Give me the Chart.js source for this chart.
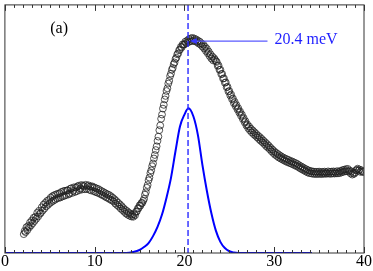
<!DOCTYPE html>
<html>
<head>
<meta charset="utf-8">
<script src="https://cdn.jsdelivr.net/npm/chart.js@4.4.1/dist/chart.umd.min.js"></script>
<style>
  html, body { margin: 0; padding: 0; background: #fff; }
  #wrap { width: 373px; height: 271px; position: relative; }
</style>
</head>
<body>
<div id="wrap"><canvas id="chart"></canvas></div>
<script>
'use strict';

/* ── Data ─────────────────────────────────────────────── */

/* measured spectrum: evenly sampled, one row per meV */
var energyStart = 2.1;
var energyStep  = 0.1;
var intensity = [
  /* 2.1 */ 7.6, 8.9, 8.4, 10.4, 9.2, 10.9, 10.3, 12.3, 11.1,
  /* 3 */  13.1, 12.0, 14.2, 12.9, 14.6, 13.8, 16.2, 14.7, 17.0, 15.8,
  /* 4 */  16.2, 18.4, 17.1, 19.5, 17.9, 20.2, 18.8, 21.0, 19.4, 21.4,
  /* 5 */  20.1, 22.3, 20.6, 22.9, 21.1, 23.3, 21.5, 23.6, 22.0, 23.9,
  /* 6 */  22.2, 24.1, 22.4, 24.6, 22.8, 24.9, 23.0, 25.1, 23.3, 25.2,
  /* 7 */  25.3, 23.6, 24.0, 25.9, 26.1, 24.2, 25.0, 26.5, 24.6, 26.4,
  /* 8 */  24.9, 26.8, 27.1, 25.3, 26.0, 27.4, 25.6, 27.2, 26.9, 25.7,
  /* 9 */  27.5, 25.8, 26.9, 27.3, 25.5, 26.8, 25.2, 26.9, 26.5, 24.9,
  /* 10 */ 26.4, 24.6, 26.0, 24.3, 25.8, 24.1, 25.3, 23.6, 24.9, 23.3,
  /* 11 */ 24.5, 22.9, 24.1, 22.4, 23.7, 22.1, 23.4, 21.6, 22.9, 21.2,
  /* 12 */ 22.3, 20.8, 21.7, 19.9, 21.0, 19.3, 20.3, 18.7, 19.6, 17.9,
  /* 13 */ 18.9, 17.3, 18.1, 16.6, 17.4, 15.9, 16.9, 15.4, 16.3, 15.0,
  /* 14 */ 15.8, 14.7, 15.5, 14.6, 15.7, 15.2, 16.6, 16.8, 17.9, 18.1,
  /* 15 */ 19.2, 19.1, 20.1, 20.2, 21.0, 21.8, 23.5, 24.5, 26.3, 27.4,
  /* 16 */ 29.3, 30.4, 32.2, 33.3, 35.0, 36.1, 38.1, 39.5, 41.5, 43.0,
  /* 17 */ 45.2, 46.9, 49.5, 51.4, 54.1, 55.8, 58.2, 59.7, 61.9, 63.3,
  /* 18 */ 65.3, 66.4, 68.3, 69.4, 71.3, 72.3, 73.9, 74.6, 76.1, 76.8,
  /* 19 */ 78.2, 78.7, 80.1, 80.4, 81.7, 82.0, 83.1, 82.9, 84.1, 83.9,
  /* 20 */ 84.1, 85.2, 84.6, 85.6, 84.9, 86.2, 85.3, 86.5, 85.4, 86.7,
  /* 21 */ 85.6, 86.4, 85.3, 86.1, 85.0, 85.6, 84.4, 85.2, 84.0, 84.5,
  /* 22 */ 83.2, 84.0, 82.4, 83.1, 81.4, 82.3, 80.5, 81.2, 79.4, 80.1,
  /* 23 */ 78.4, 79.2, 77.6, 78.5, 77.9, 77.3, 77.0, 75.4, 75.6, 73.8,
  /* 24 */ 73.9, 72.1, 72.2, 70.3, 70.4, 68.6, 68.8, 66.8, 67.0, 65.1,
  /* 25 */ 65.3, 63.5, 63.9, 62.0, 62.3, 60.4, 60.9, 59.2, 59.6, 57.9,
  /* 26 */ 58.3, 56.6, 57.0, 55.3, 55.8, 54.0, 54.4, 52.7, 53.1, 51.4,
  /* 27 */ 51.8, 50.3, 51.0, 49.4, 50.1, 48.6, 49.4, 47.9, 48.7, 47.3,
  /* 28 */ 48.0, 46.6, 47.3, 45.9, 46.7, 45.2, 46.0, 44.6, 45.3, 43.9,
  /* 29 */ 44.6, 43.1, 43.9, 42.5, 43.2, 41.8, 42.4, 41.0, 41.7, 40.3,
  /* 30 */ 41.0, 39.6, 40.4, 39.1, 39.9, 38.5, 39.4, 38.1, 38.9, 37.7,
  /* 31 */ 38.5, 37.3, 38.1, 36.9, 37.8, 36.6, 37.5, 36.3, 37.1, 36.0,
  /* 32 */ 36.9, 35.7, 36.5, 35.3, 36.2, 35.0, 35.8, 34.6, 35.3, 34.1,
  /* 33 */ 34.9, 33.7, 34.5, 33.3, 34.0, 32.9, 33.7, 32.5, 33.3, 32.2,
  /* 34 */ 33.1, 32.1, 32.9, 31.9, 32.8, 31.9, 32.7, 31.8, 32.7, 31.9,
  /* 35 */ 32.8, 31.9, 32.6, 31.8, 32.7, 32.0, 32.8, 31.9, 32.5, 32.0,
  /* 36 */ 32.9, 32.0, 32.7, 31.9, 32.8, 32.1, 32.9, 32.0, 32.6, 32.1,
  /* 37 */ 33.0, 32.1, 32.8, 32.2, 33.1, 32.5, 33.4, 32.7, 33.6, 32.9,
  /* 38 */ 33.8, 33.0, 33.9, 32.8, 33.2, 32.1, 32.9, 31.6, 32.2, 31.9,
  /* 39 */ 32.4, 33.3, 33.5, 34.0, 33.2, 33.6, 32.7, 33.4, 32.9, 32.6
];

/* fitted mode (blue curve) */
var fitEnergy    = [0, 13.5, 14.3, 15.0, 15.5, 16.0, 16.5, 17.0, 17.5, 18.0, 18.5, 19.0, 19.5, 20.0, 20.45,
                    21.0, 21.5, 22.0, 22.5, 23.0, 23.5, 24.0, 24.5, 25.0, 25.5, 26.0, 34.2];
var fitIntensity = [0, 0, 0.4, 1.2, 2.4, 4.0, 6.8, 10.5, 15.5, 22.3, 30.3, 41.0, 51.0, 55.8, 58.3,
                    55.0, 47.5, 35.5, 25.0, 16.0, 9.0, 4.5, 2.0, 0.7, 0.2, 0, 0];

var peakEnergy = 20.4;
var peakLabel  = '20.4 meV';
var panelLabel = '(a)';
var xTicks     = [0, 10, 20, 30, 40];

/* ── Build datasets ───────────────────────────────────── */

var spectrum = intensity.map(function (v, i) {
  return { x: energyStart + i * energyStep, y: v };
});
var fit = fitEnergy.map(function (e, i) {
  return { x: e, y: fitIntensity[i] };
});

var SERIF = '"Liberation Serif", "Times New Roman", serif';

/* frame, inward ticks, marker line and labels */
var decor = {
  id: 'decor',
  afterDatasetsDraw: function (chart) {
    var ctx = chart.ctx, a = chart.chartArea;
    var sx = chart.scales.x, sy = chart.scales.y;
    ctx.save();

    // dashed peak position
    var px = sx.getPixelForValue(peakEnergy);
    ctx.strokeStyle = '#2a2aff';
    ctx.lineWidth = 1.4;
    ctx.setLineDash([6, 3]);
    ctx.beginPath();
    ctx.moveTo(px, a.top);
    ctx.lineTo(px, a.bottom);
    ctx.stroke();
    ctx.setLineDash([]);

    // pointer to the label
    var ay = sy.getPixelForValue(85.4);
    var ax0 = sx.getPixelForValue(20.6), ax1 = sx.getPixelForValue(29.25);
    ctx.strokeStyle = '#5a5aff';
    ctx.lineWidth = 1.2;
    ctx.beginPath();
    ctx.moveTo(ax0 + 4, ay);
    ctx.lineTo(ax1, ay);
    ctx.stroke();
    ctx.fillStyle = '#3a3aff';
    ctx.beginPath();
    ctx.moveTo(ax0, ay);
    ctx.lineTo(ax0 + 7, ay - 3);
    ctx.lineTo(ax0 + 7, ay + 3);
    ctx.closePath();
    ctx.fill();

    ctx.font = '16px ' + SERIF;
    ctx.textBaseline = 'alphabetic';
    ctx.fillStyle = '#1f1fff';
    ctx.fillText(peakLabel, sx.getPixelForValue(30.03), 44);

    ctx.fillStyle = '#000';
    ctx.fillText(panelLabel, sx.getPixelForValue(5.05), 33);

    // frame
    ctx.strokeStyle = '#333';
    ctx.lineWidth = 1;
    ctx.strokeRect(a.left, a.top, a.right - a.left, a.bottom - a.top);

    // inward ticks top and bottom
    ctx.beginPath();
    for (var v = 0; v <= 40; v++) {
      var tx = Math.round(sx.getPixelForValue(v)) + 0.5;
      var len = v % 10 === 0 ? 6 : 3;
      ctx.moveTo(tx, a.bottom); ctx.lineTo(tx, a.bottom - len);
      ctx.moveTo(tx, a.top);    ctx.lineTo(tx, a.top + len);
    }
    ctx.stroke();
    ctx.restore();
  }
};

new Chart(document.getElementById('chart'), {
  type: 'scatter',
  data: {
    datasets: [
      {
        data: fit,
        showLine: true,
        borderColor: '#0000ff',
        borderWidth: 2,
        pointRadius: 0,
        cubicInterpolationMode: 'monotone',
        order: 2
      },
      {
        data: spectrum,
        showLine: false,
        pointRadius: 3.4,
        pointBorderWidth: 0.9,
        borderColor: 'rgba(30,30,30,0.85)',
        backgroundColor: 'rgba(0,0,0,0)',
        order: 1
      }
    ]
  },
  options: {
    responsive: true,
    maintainAspectRatio: false,
    animation: false,
    layout: { padding: { left: 4.7, right: 9, top: 2, bottom: 0 } },
    plugins: { legend: { display: false }, tooltip: { enabled: false } },
    scales: {
      x: {
        type: 'linear',
        min: 0, max: 40,
        grid: { display: false, drawTicks: false },
        border: { display: false },
        afterBuildTicks: function (scale) {
          scale.ticks = xTicks.map(function (v) { return { value: v }; });
        },
        // let the end labels hang over the frame like the original
        afterFit: function (scale) {
          scale.paddingLeft = 0;
          scale.paddingRight = 0;
        },
        ticks: {
          color: '#000',
          padding: 1,
          maxRotation: 0,
          font: { family: SERIF, size: 16, lineHeight: 1 }
        }
      },
      y: {
        display: false,
        min: 0, max: 100
      }
    }
  },
  plugins: [decor]
});
</script>
</body>
</html>
